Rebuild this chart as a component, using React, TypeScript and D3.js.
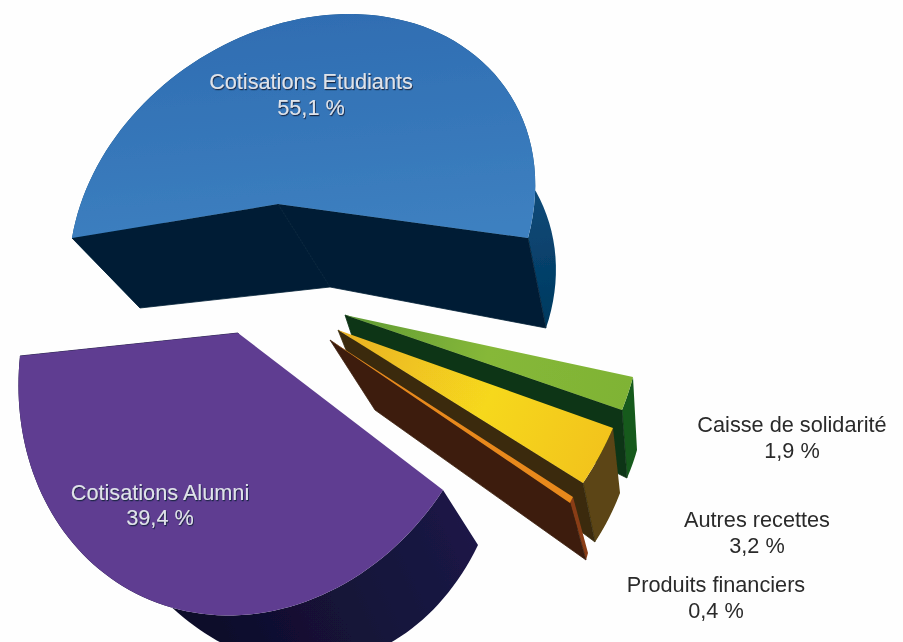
import React from "react";
import * as d3 from "d3";

const categories = ["Cotisations Etudiants", "Caisse de solidarité", "Autres recettes", "Produits financiers", "Cotisations Alumni"];
const values = [55.1, 1.9, 3.2, 0.4, 39.4];
const valueLabels = ["55,1 %", "1,9 %", "3,2 %", "0,4 %", "39,4 %"];

type P = [number, number];
// Camera calibration of each exploded slice: where the centre, the two edges and the mid-arc land.
const topFrames: { a: P; s: P; e: P; m?: P }[] = [
  { a: [278, 204], s: [72, 238], e: [528, 238], m: [318, 16] },
  { a: [345, 315], s: [633, 377], e: [622, 410] },
  { a: [338, 330], s: [613, 428], e: [583, 483] },
  { a: [330, 340], s: [573, 497], e: [570, 503] },
  { a: [238, 333], s: [443, 490], e: [20, 356], m: [150, 600] },
];
const baseFrames: { a: P; s: P; e: P; m?: P }[] = [
  { a: [330, 287], s: [140, 308], e: [546, 328], m: [362, 103] },
  { a: [355, 345], s: [637, 450], e: [627, 478] },
  { a: [350, 360], s: [620, 493], e: [595, 542] },
  { a: [375, 410], s: [588, 553], e: [586, 560] },
  { a: [270, 400], s: [478, 545], e: [80, 440], m: [252, 656] },
];
const faceColors = ["url(#gBlue)", "url(#gGreen)", "url(#gYellow)", "#e8891e", "#5f3d91"];
const wallColors = ["url(#gBlueWall)", "#175a1c", "#5b4512", "#8a3d14", "url(#gPurpleWall)"];
const cutColors = ["#011f36", "#0f3416", "#3a2c10", "#3c1f0e", "#15123a"];
const showStartCut = [true, false, false, false, false];
const drawOrder = [0, 1, 2, 3, 4];

const labelSpots: { x: number; y: number; dy: number; light: boolean }[] = [
  { x: 311, y: 89, dy: 26, light: true },
  { x: 792, y: 432, dy: 26, light: false },
  { x: 757, y: 527, dy: 26, light: false },
  { x: 716, y: 592, dy: 26, light: false },
  { x: 160, y: 500, dy: 25, light: true },
];

function solve(A: number[][], b: number[]): number[] {
  const n = b.length;
  const M = A.map((r, i) => [...r, b[i]]);
  for (let c = 0; c < n; c++) {
    let p = c;
    for (let r = c + 1; r < n; r++) if (Math.abs(M[r][c]) > Math.abs(M[p][c])) p = r;
    [M[c], M[p]] = [M[p], M[c]];
    for (let r = 0; r < n; r++) {
      if (r === c) continue;
      const f = M[r][c] / M[c][c];
      for (let k = c; k <= n; k++) M[r][k] -= f * M[c][k];
    }
  }
  return M.map((r, i) => r[n] / r[i]);
}

function homography(src: P[], dst: P[]) {
  const A: number[][] = [];
  const b: number[] = [];
  src.forEach(([u, v], i) => {
    const [x, y] = dst[i];
    A.push([u, v, 1, 0, 0, 0, -u * x, -v * x]);
    b.push(x);
    A.push([0, 0, 0, u, v, 1, -u * y, -v * y]);
    b.push(y);
  });
  const h = solve(A, b);
  return (u: number, v: number): P => {
    const w = h[6] * u + h[7] * v + 1;
    return [(h[0] * u + h[1] * v + h[2]) / w, (h[3] * u + h[4] * v + h[5]) / w];
  };
}

const polar = (t: number): P => [Math.sin(t), -Math.cos(t)];

function frameMap(f: { a: P; s: P; e: P; m?: P }, t0: number, t1: number) {
  const half = (t1 - t0) / 2;
  const m: P = f.m ?? [
    f.a[0] + (f.s[0] + f.e[0] - 2 * f.a[0]) / (2 * Math.cos(half)),
    f.a[1] + (f.s[1] + f.e[1] - 2 * f.a[1]) / (2 * Math.cos(half)),
  ];
  return homography([[0, 0], polar(t0), polar(t1), polar((t0 + t1) / 2)], [f.a, f.s, f.e, m]);
}

const total = d3.sum(values);
const blueSweep = (values[0] / total) * 2 * Math.PI;
const pie = d3
  .pie<number>()
  .sort(null)
  .startAngle(-blueSweep / 2)
  .endAngle(2 * Math.PI - blueSweep / 2);
const arcs = pie(values);
const line = d3.line<P>();

export default function App() {
  const slices = drawOrder.map((i) => {
    const { startAngle: t0, endAngle: t1 } = arcs[i];
    const top = frameMap(topFrames[i], t0, t1);
    const base = frameMap(baseFrames[i], t0, t1);
    const angles = d3.range(0, 81).map((k) => d3.interpolateNumber(t0, t1)(k / 80));
    const topArc = angles.map((t) => top(...polar(t)));
    const baseArc = angles.map((t) => base(...polar(t)));
    const c = top(0, 0);
    const bc = base(0, 0);
    const last = angles.length - 1;
    return {
      i,
      face: line([c, ...topArc])! + "Z",
      wall: line([...topArc, ...[...baseArc].reverse()])! + "Z",
      startCut: line([c, topArc[0], baseArc[0], bc])! + "Z",
      endCut: line([c, topArc[last], baseArc[last], bc])! + "Z",
    };
  });

  return (
    <svg width={903} height={642} style={{ position: "absolute", left: 0, top: 0, background: "#fefefe" }}>
      <defs>
        <linearGradient id="gBlue" gradientUnits="userSpaceOnUse" x1="300" y1="15" x2="320" y2="240">
          <stop offset="0" stopColor="#2f6db2" />
          <stop offset="1" stopColor="#3d80c0" />
        </linearGradient>
        <linearGradient id="gBlueWall" gradientUnits="userSpaceOnUse" x1="530" y1="170" x2="555" y2="320">
          <stop offset="0" stopColor="#0f4c7c" />
          <stop offset="1" stopColor="#013a60" />
        </linearGradient>
        <linearGradient id="gGreen" gradientUnits="userSpaceOnUse" x1="345" y1="315" x2="630" y2="395">
          <stop offset="0" stopColor="#5f9a35" />
          <stop offset="0.5" stopColor="#86b838" />
          <stop offset="1" stopColor="#7fb335" />
        </linearGradient>
        <linearGradient id="gYellow" gradientUnits="userSpaceOnUse" x1="338" y1="330" x2="610" y2="460">
          <stop offset="0" stopColor="#e9b021" />
          <stop offset="0.55" stopColor="#f6d81f" />
          <stop offset="1" stopColor="#f2c21b" />
        </linearGradient>
        <linearGradient id="gPurpleWall" gradientUnits="userSpaceOnUse" x1="470" y1="530" x2="230" y2="640">
          <stop offset="0" stopColor="#1b1646" />
          <stop offset="1" stopColor="#0f0f2c" />
        </linearGradient>
        <filter id="soft" x="-5%" y="-5%" width="110%" height="110%">
          <feGaussianBlur stdDeviation="0.7" />
        </filter>
        <filter id="softText" x="-10%" y="-30%" width="120%" height="160%">
          <feGaussianBlur stdDeviation="0.55" />
        </filter>
        <filter id="bevel" x="-10%" y="-30%" width="120%" height="160%">
          <feDropShadow dx="0.8" dy="1.2" stdDeviation="0.7" floodColor="#12233f" floodOpacity="0.95" />
          <feGaussianBlur stdDeviation="0.35" />
        </filter>
      </defs>
      <g filter="url(#soft)">
        {slices.map((s) => (
          <g key={s.i}>
            <path d={s.wall} fill={wallColors[s.i]} />
            {showStartCut[s.i] && <path d={s.startCut} fill={cutColors[s.i]} stroke={cutColors[s.i]} strokeWidth={0.8} />}
            <path d={s.endCut} fill={cutColors[s.i]} stroke={cutColors[s.i]} strokeWidth={0.8} />
            <path d={s.face} fill={faceColors[s.i]} />
          </g>
        ))}
      </g>
      {categories.map((name, i) => {
        const spot = labelSpots[i];
        return (
          <text
            key={name}
            textAnchor="middle"
            fontFamily="'Liberation Sans', Arial, sans-serif"
            fontSize={21.7}
            fill={spot.light ? "#dfe3ea" : "#2a2a2a"}
            filter={spot.light ? "url(#bevel)" : "url(#softText)"}
          >
            <tspan x={spot.x} y={spot.y}>{name}</tspan>
            <tspan x={spot.x} y={spot.y + spot.dy}>{valueLabels[i]}</tspan>
          </text>
        );
      })}
    </svg>
  );
}
